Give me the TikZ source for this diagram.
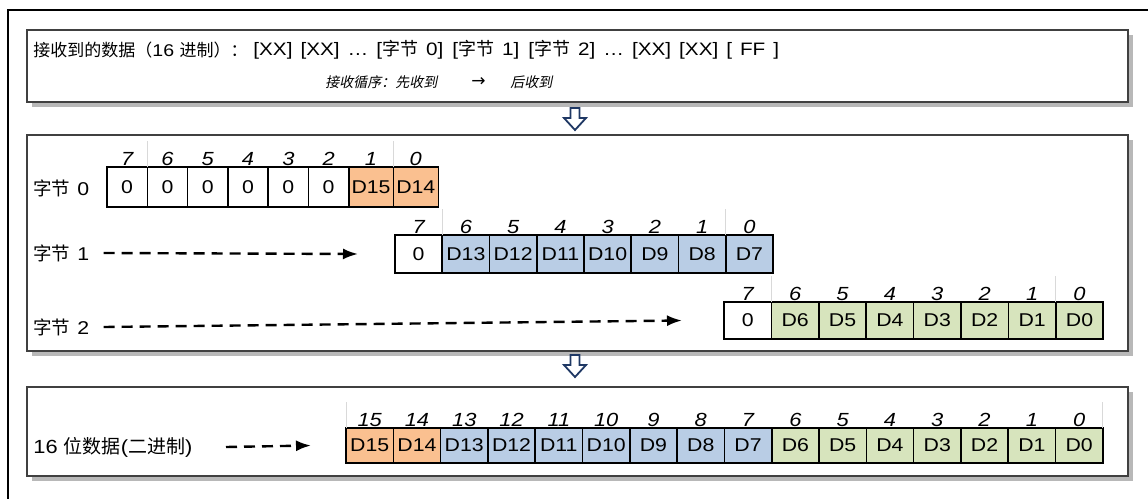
\documentclass[tikz,border=0pt]{standalone}
\usepackage{fontspec}
\setmainfont{Liberation Sans}[FakeStretch=1.15]
\newfontfamily\zh{Noto Sans CJK SC}
\newfontfamily\zhit[FakeSlant=0.2]{Noto Sans CJK SC}
\newfontfamily\symfont{DejaVu Sans}
\usepackage{tikz}
\usetikzlibrary{arrows.meta, positioning, shadows}

\definecolor{hiorange}{HTML}{FAC090}
\definecolor{midblue}{HTML}{B9CDE5}
\definecolor{logreen}{HTML}{D7E4BD}
\definecolor{arrownavy}{HTML}{1F3864}

\begin{document}
\begin{tikzpicture}[x=1pt, y=-1pt, line width=0.8pt, black,
    panel/.style={draw=black!75, fill=white, line width=1.2pt, inner sep=0pt, outer sep=0pt,
        anchor=north west, minimum width=1101pt,
        drop shadow={shadow xshift=5pt, shadow yshift=-5pt, fill=black!28, opacity=1}},
    cellbox/.style={draw, line width=1.6pt, inner sep=0pt, outer sep=0pt, anchor=north west,
        font=\fontsize{18.5}{18.5}\selectfont},
    bitnum/.style={font=\fontsize{19}{19}\selectfont\itshape, inner sep=1pt},
    rowlabel/.style={anchor=west, inner sep=0pt, font=\fontsize{18.5}{18.5}\selectfont},
    seprule/.style={draw=black!15, line width=1pt},
    dasharrow/.style={line width=2.4pt, dash pattern=on 11pt off 7pt,
        -{Latex[length=15pt, width=11pt]}},
    hollowdown/.style={draw=arrownavy, line width=1.8pt, fill=white, line join=miter}]

    \useasboundingbox (0,0) rectangle (1148,498);

    % Draw the outer frame (runs off the page at right and bottom)
    \draw[line width=2.2pt] (8,520) -- (8,10) -- (1170,10);

    % Draw the three panels
    \node[panel, minimum height=72pt] (rxpanel) at (27,30) {};
    \node[panel, minimum height=216pt] (bytepanel) at (27,135) {};
    \node[panel, minimum height=89pt] (wordpanel) at (27,387) {};

    % Received data line
    \node[rowlabel, font=\fontsize{17}{17}\selectfont] (rxlabel) at (33,50)
        {{\zh 接收到的数据（}16 {\zh 进制）：}};
    \node[rowlabel, font=\fontsize{18}{18}\selectfont] (rxdata) at (253,50)
        {\spaceskip=8pt\relax [XX] [XX] \ldots{} [{\zh 字节} 0]\hspace{9pt}[{\zh 字节} 1]\hspace{9pt}[{\zh 字节} 2] \ldots{} [XX] [XX] [ FF ]};
    \node[anchor=west, inner sep=0pt, font=\fontsize{14}{14}\selectfont\zhit] (rxorder) at (325,82)
        {接收循序：先收到};
    \node[anchor=west, inner sep=0pt, font=\fontsize{17}{17}\selectfont\symfont] (rxarrow) at (471,82) {→};
    \node[anchor=west, inner sep=0pt, font=\fontsize{14}{14}\selectfont\zhit] (rxlast) at (510,82)
        {后收到};

    % Hollow arrows between panels
    \draw[hollowdown] (570.5,108) -- (579.5,108) -- (579.5,118) -- (586,118) -- (575,130)
        -- (564,118) -- (570.5,118) -- cycle;
    \draw[hollowdown] (570.5,355) -- (579.5,355) -- (579.5,365) -- (586,365) -- (575,377)
        -- (564,365) -- (570.5,365) -- cycle;

    % Byte 0
    \node[rowlabel] (lab0) at (33,188) {{\zh 字节}\hspace{7pt}0};
    \foreach \v [count=\i from 0] in {0,0,0,0,0,0} {
        \node[cellbox, minimum width=40.3pt, minimum height=40pt] (bz\i) at (107+40.3*\i,167) {\v};
    }
    \node[cellbox, minimum width=44.5pt, minimum height=40pt, fill=hiorange] (bz6) at (348.8,167) {D15};
    \node[cellbox, minimum width=45pt, minimum height=40pt, fill=hiorange] (bz7) at (393.3,167) {D14};
    \foreach \b [count=\i from 0] in {7,6,5,4,3,2,1,0} {
        \node[bitnum, above=0pt of bz\i] (bzn\i) {\b};
    }
    \draw[seprule] (bz1.north west) -- ++(0,-26);
    \draw[seprule] (bz7.north west) -- ++(0,-26);

    % Byte 1
    \node[rowlabel] (lab1) at (33,253) {{\zh 字节}\hspace{7pt}1};
    \foreach \v/\f [count=\i from 0] in {0/white,D13/midblue,D12/midblue,D11/midblue,D10/midblue,D9/midblue,D8/midblue,D7/midblue} {
        \node[cellbox, minimum width=47.25pt, minimum height=38pt, fill=\f] (bo\i) at (395+47.25*\i,235) {\v};
    }
    \foreach \b [count=\i from 0] in {7,6,5,4,3,2,1,0} {
        \node[bitnum, above=0pt of bo\i] (bon\i) {\b};
    }
    \draw[seprule] (bo1.north west) -- ++(0,-26);
    \draw[seprule] (bo7.north west) -- ++(0,-26);
    \draw[dasharrow] ([xshift=14pt]lab1.east) -- ([xshift=-37pt]bo0.west);

    % Byte 2
    \node[rowlabel] (lab2) at (33,327) {{\zh 字节}\hspace{7pt}2};
    \foreach \v/\f [count=\i from 0] in {0/white,D6/logreen,D5/logreen,D4/logreen,D3/logreen,D2/logreen,D1/logreen,D0/logreen} {
        \node[cellbox, minimum width=47.4pt, minimum height=37pt, fill=\f] (bt\i) at (724+47.4*\i,302) {\v};
    }
    \foreach \b [count=\i from 0] in {7,6,5,4,3,2,1,0} {
        \node[bitnum, above=0pt of bt\i] (btn\i) {\b};
    }
    \draw[seprule] (bt1.north west) -- ++(0,-26);
    \draw[seprule] (bt7.north west) -- ++(0,-26);
    \draw[dasharrow] ([xshift=14pt]lab2.east) -- ([xshift=-42pt]bt0.west);

    % 16 bit word
    \node[rowlabel, font=\fontsize{19}{19}\selectfont] (labw) at (33,447) {16 {\zh 位数据}({\zh 二进制})};
    \foreach \v/\f [count=\i from 0] in {D15/hiorange,D14/hiorange,D13/midblue,D12/midblue,D11/midblue,D10/midblue,D9/midblue,D8/midblue,D7/midblue,D6/logreen,D5/logreen,D4/logreen,D3/logreen,D2/logreen,D1/logreen,D0/logreen} {
        \node[cellbox, minimum width=47.3pt, minimum height=35pt, fill=\f] (w\i) at (346+47.3*\i,428) {\v};
    }
    \foreach \b [count=\i from 0] in {15,14,13,12,11,10,9,8,7,6,5,4,3,2,1,0} {
        \node[bitnum, above=0pt of w\i] (wn\i) {\b};
    }
    \draw[seprule] (w0.north west) -- ++(0,-26);
    \draw[seprule] (w15.north east) -- ++(0,-26);
    \draw[dasharrow] (226,447) -- ([xshift=-35pt]w0.west);
\end{tikzpicture}
\end{document}
